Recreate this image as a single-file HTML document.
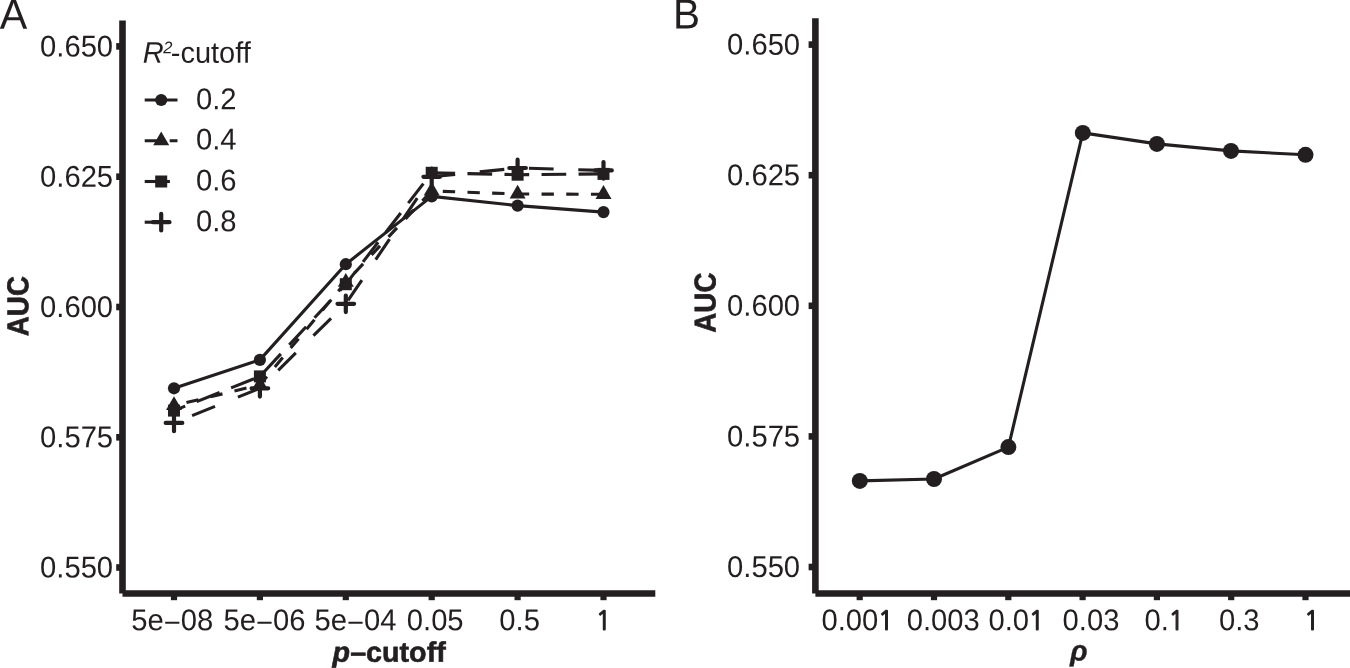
<!DOCTYPE html>
<html><head><meta charset="utf-8"><title>AUC plots</title>
<style>html,body{margin:0;padding:0;background:#fff}svg{display:block}text{text-rendering:geometricPrecision;font-family:"Liberation Sans",Arial,Helvetica,sans-serif;fill:#231f20}.b{font-weight:bold;stroke:#231f20;stroke-width:0.6px;stroke-linejoin:round}</style>
</head><body>
<svg width="1350" height="668" viewBox="0 0 1350 668">
<rect width="1350" height="668" fill="#fff"/>
<g stroke="#231f20" fill="none" stroke-width="6.6">
<path d="M122.5 20.5V593.5"/>
<path d="M122.5 593.5H655.3"/>
<path d="M116.2 46.4H122.5"/>
<path d="M116.2 176.7H122.5"/>
<path d="M116.2 307.0H122.5"/>
<path d="M116.2 437.3H122.5"/>
<path d="M116.2 567.5H122.5"/>
<path d="M174.0 593.5V600.2" stroke-width="6.2"/>
<path d="M259.9 593.5V600.2" stroke-width="6.2"/>
<path d="M345.8 593.5V600.2" stroke-width="6.2"/>
<path d="M431.7 593.5V600.2" stroke-width="6.2"/>
<path d="M517.6 593.5V600.2" stroke-width="6.2"/>
<path d="M603.5 593.5V600.2" stroke-width="6.2"/>
</g>
<g stroke="#231f20" fill="none" stroke-width="6.6">
<path d="M815.4 18.3V593.5"/>
<path d="M815.4 593.5H1350"/>
<path d="M808.6 44.6H815.4"/>
<path d="M808.6 175.2H815.4"/>
<path d="M808.6 305.8H815.4"/>
<path d="M808.6 436.4H815.4"/>
<path d="M808.6 567.0H815.4"/>
<path d="M859.7 593.5V600.2" stroke-width="6.2"/>
<path d="M934.0 593.5V600.2" stroke-width="6.2"/>
<path d="M1008.3 593.5V600.2" stroke-width="6.2"/>
<path d="M1082.6 593.5V600.2" stroke-width="6.2"/>
<path d="M1156.9 593.5V600.2" stroke-width="6.2"/>
<path d="M1231.2 593.5V600.2" stroke-width="6.2"/>
<path d="M1305.5 593.5V600.2" stroke-width="6.2"/>
</g>
<g font-size="29.2">
<text transform="translate(113.10 56.45) rotate(0.03) scale(1 1.03)" text-anchor="end">0.650</text>
<text transform="translate(113.10 186.75) rotate(0.03) scale(1 1.03)" text-anchor="end">0.625</text>
<text transform="translate(113.10 317.05) rotate(0.03) scale(1 1.03)" text-anchor="end">0.600</text>
<text transform="translate(113.10 447.35) rotate(0.03) scale(1 1.03)" text-anchor="end">0.575</text>
<text transform="translate(113.10 577.55) rotate(0.03) scale(1 1.03)" text-anchor="end">0.550</text>
<text transform="translate(800.10 54.65) rotate(0.03) scale(1 1.03)" text-anchor="end">0.650</text>
<text transform="translate(800.10 185.25) rotate(0.03) scale(1 1.03)" text-anchor="end">0.625</text>
<text transform="translate(800.10 315.85) rotate(0.03) scale(1 1.03)" text-anchor="end">0.600</text>
<text transform="translate(800.10 446.45) rotate(0.03) scale(1 1.03)" text-anchor="end">0.575</text>
<text transform="translate(800.10 577.05) rotate(0.03) scale(1 1.03)" text-anchor="end">0.550</text>
<text transform="translate(172.15 630.30) rotate(0.03) scale(1 1.03)" text-anchor="middle">5e<tspan dy="2.4">−</tspan><tspan dy="-2.4">08</tspan></text>
<text transform="translate(264.40 630.30) rotate(0.03) scale(1 1.03)" text-anchor="middle">5e<tspan dy="2.4">−</tspan><tspan dy="-2.4">06</tspan></text>
<text transform="translate(355.60 630.30) rotate(0.03) scale(1 1.03)" text-anchor="middle">5e<tspan dy="2.4">−</tspan><tspan dy="-2.4">04</tspan></text>
<text transform="translate(435.20 630.30) rotate(0.03) scale(1 1.03)" text-anchor="middle">0.05</text>
<text transform="translate(519.60 630.30) rotate(0.03) scale(1 1.03)" text-anchor="middle">0.5</text>
<text transform="translate(943.20 630.30) rotate(0.03) scale(1 1.03)" text-anchor="middle">0.003</text>
<text transform="translate(1091.00 630.30) rotate(0.03) scale(1 1.03)" text-anchor="middle">0.03</text>
<text transform="translate(1239.20 630.30) rotate(0.03) scale(1 1.03)" text-anchor="middle">0.3</text>
<text transform="translate(595.50 630.30) rotate(0.03) scale(1 1.03)"><tspan font-family="NanumGothic,'Liberation Sans',sans-serif" font-size="25.4" stroke="#231f20" stroke-width="1.2" dx="0.3" dy="-0.5">1</tspan></text>
<text transform="translate(821.50 630.30) rotate(0.03) scale(1 1.03)">0.00<tspan font-family="NanumGothic,'Liberation Sans',sans-serif" font-size="25.4" stroke="#231f20" stroke-width="1.2" dx="-0.2" dy="-0.5">1</tspan></text>
<text transform="translate(988.40 630.30) rotate(0.03) scale(1 1.03)">0.0<tspan font-family="NanumGothic,'Liberation Sans',sans-serif" font-size="25.4" stroke="#231f20" stroke-width="1.2" dx="-0.2" dy="-0.5">1</tspan></text>
<text transform="translate(1144.40 630.30) rotate(0.03) scale(1 1.03)">0.<tspan font-family="NanumGothic,'Liberation Sans',sans-serif" font-size="25.4" stroke="#231f20" stroke-width="1.2" dx="-0.2" dy="-0.5">1</tspan></text>
<text transform="translate(1303.70 630.30) rotate(0.03) scale(1 1.03)"><tspan font-family="NanumGothic,'Liberation Sans',sans-serif" font-size="25.4" stroke="#231f20" stroke-width="1.2" dx="0.3" dy="-0.5">1</tspan></text>
</g>
<text transform="translate(-0.20 28.70) rotate(0.03) scale(1 1.03)" font-size="41.2">A</text>
<text transform="translate(673.00 28.40) rotate(0.03) scale(1 1.04)" font-size="40.5">B</text>
<text transform="translate(28.35 306.10) rotate(-90.03) scale(1 1.082)" font-size="27.8" text-anchor="middle" class="b">AUC</text>
<text transform="translate(715.40 302.60) rotate(-90.03) scale(1 1.082)" font-size="27.8" text-anchor="middle" class="b">AUC</text>
<text transform="translate(332.60 661.80) rotate(0.03) scale(1 0.98)" font-size="28.7" class="b"><tspan font-style="italic">p</tspan>–cutoff</text>
<text transform="translate(1069.90 660.60) rotate(0.03) scale(1 1.0)" font-size="29" font-weight="bold" font-style="italic" stroke="#231f20" stroke-width="0.25">ρ</text>
<text transform="translate(142.70 62.80) rotate(0.03) scale(1 1.03)" font-size="29"><tspan font-style="italic">R</tspan><tspan font-size="16.5" font-style="italic" dy="-9.4" dx="-0.5">2</tspan><tspan dy="9.4" dx="-1.6">-cutoff</tspan></text>
<path d="M144.7 100.0H177.5" stroke="#231f20" stroke-width="3.1" fill="none"/>
<circle cx="161.2" cy="100.0" r="6.1" fill="#231f20"/>
<text transform="translate(195.90 109.20) rotate(0.03) scale(1 1.03)" font-size="29.2">0.2</text>
<path d="M144.7 140.7H157M169.7 140.7H177.5" stroke="#231f20" stroke-width="3.1" fill="none"/>
<path d="M161.2 131.5L169.2 145.3H153.2Z" fill="#231f20"/>
<text transform="translate(195.90 149.40) rotate(0.03) scale(1 1.03)" font-size="29.2">0.4</text>
<path d="M144.7 181.5H169.9" stroke="#231f20" stroke-width="3.1" fill="none"/>
<rect x="155.2" y="175.5" width="12" height="12" fill="#231f20"/>
<text transform="translate(195.90 190.40) rotate(0.03) scale(1 1.03)" font-size="29.2">0.6</text>
<path d="M144.7 222.2H169.9" stroke="#231f20" stroke-width="3.1" fill="none"/>
<path d="M152.9 222.2H169.5M161.2 213.9V230.5" stroke="#231f20" stroke-width="4.2" stroke-linecap="round" fill="none"/>
<text transform="translate(195.90 231.30) rotate(0.03) scale(1 1.03)" font-size="29.2">0.8</text>
<polyline points="174.0,388.3 259.9,359.9 345.8,264.2 431.7,196.4 517.6,205.6 603.5,212.1" stroke="#231f20" stroke-width="3.1" fill="none" stroke-linejoin="round"/>
<polyline points="174.0,405.5 259.9,384.9 345.8,282.2 431.7,191.0 517.6,194.0 603.5,194.3" stroke="#231f20" stroke-width="3.1" fill="none" stroke-linejoin="round" stroke-dasharray="12.35 12.35" stroke-dashoffset="11.90"/>
<polyline points="174.0,410.6 259.9,376.4 345.8,284.2 431.7,172.8 517.6,174.7 603.5,173.9" stroke="#231f20" stroke-width="3.1" fill="none" stroke-linejoin="round" stroke-dasharray="24.70 12.35" stroke-dashoffset="12.65"/>
<polyline points="174.0,422.9 259.9,388.3 345.8,303.8 431.7,176.8 517.6,168.0 603.5,170.4" stroke="#231f20" stroke-width="3.1" fill="none" stroke-linejoin="round" stroke-dasharray="24.70 24.70" stroke-dashoffset="29.90"/>
<circle cx="174.0" cy="388.3" r="6.1" fill="#231f20"/>
<circle cx="259.9" cy="359.9" r="6.1" fill="#231f20"/>
<circle cx="345.8" cy="264.2" r="6.1" fill="#231f20"/>
<circle cx="431.7" cy="196.4" r="6.1" fill="#231f20"/>
<circle cx="517.6" cy="205.6" r="6.1" fill="#231f20"/>
<circle cx="603.5" cy="212.1" r="6.1" fill="#231f20"/>
<path d="M174.0 396.3L182.0 410.1H166.0Z" fill="#231f20"/>
<path d="M259.9 375.7L267.9 389.5H251.9Z" fill="#231f20"/>
<path d="M345.8 273.0L353.8 286.8H337.8Z" fill="#231f20"/>
<path d="M431.7 181.8L439.7 195.6H423.7Z" fill="#231f20"/>
<path d="M517.6 184.8L525.6 198.6H509.6Z" fill="#231f20"/>
<path d="M603.5 185.1L611.5 198.9H595.5Z" fill="#231f20"/>
<rect x="168.0" y="404.6" width="12" height="12" fill="#231f20"/>
<rect x="253.9" y="370.4" width="12" height="12" fill="#231f20"/>
<rect x="339.8" y="278.2" width="12" height="12" fill="#231f20"/>
<rect x="425.7" y="166.8" width="12" height="12" fill="#231f20"/>
<rect x="511.6" y="168.7" width="12" height="12" fill="#231f20"/>
<rect x="597.5" y="167.9" width="12" height="12" fill="#231f20"/>
<path d="M165.7 422.9H182.3M174.0 414.6V431.2" stroke="#231f20" stroke-width="4.2" stroke-linecap="round" fill="none"/>
<path d="M251.6 388.3H268.2M259.9 380.0V396.6" stroke="#231f20" stroke-width="4.2" stroke-linecap="round" fill="none"/>
<path d="M337.5 303.8H354.1M345.8 295.5V312.1" stroke="#231f20" stroke-width="4.2" stroke-linecap="round" fill="none"/>
<path d="M423.4 176.8H440.0M431.7 168.5V185.1" stroke="#231f20" stroke-width="4.2" stroke-linecap="round" fill="none"/>
<path d="M509.3 168.0H525.9M517.6 159.7V176.3" stroke="#231f20" stroke-width="4.2" stroke-linecap="round" fill="none"/>
<path d="M595.2 170.4H611.8M603.5 162.1V178.7" stroke="#231f20" stroke-width="4.2" stroke-linecap="round" fill="none"/>
<polyline points="859.8,480.9 934.0,479.0 1008.4,447.1 1082.8,132.9 1156.9,143.9 1231.0,150.9 1305.5,154.8" stroke="#231f20" stroke-width="3.1" fill="none" stroke-linejoin="round"/>
<circle cx="859.8" cy="480.9" r="8" fill="#231f20"/>
<circle cx="934.0" cy="479.0" r="8" fill="#231f20"/>
<circle cx="1008.4" cy="447.1" r="8" fill="#231f20"/>
<circle cx="1082.8" cy="132.9" r="8" fill="#231f20"/>
<circle cx="1156.9" cy="143.9" r="8" fill="#231f20"/>
<circle cx="1231.0" cy="150.9" r="8" fill="#231f20"/>
<circle cx="1305.5" cy="154.8" r="8" fill="#231f20"/>
</svg>
</body></html>
